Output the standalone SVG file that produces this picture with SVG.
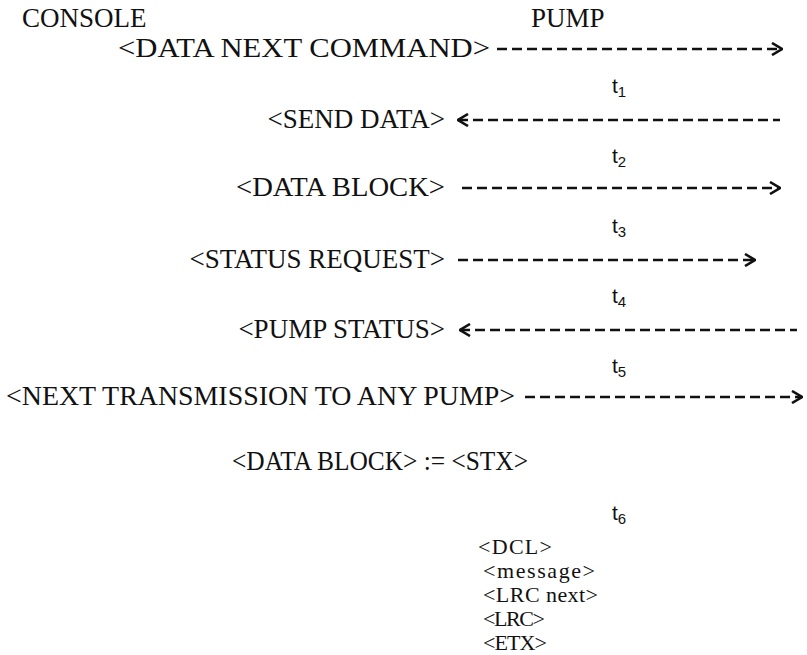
<svg xmlns="http://www.w3.org/2000/svg" width="807" height="655" viewBox="0 0 807 655">
<defs>
<style>
.lbl{font-family:"Liberation Serif","Times New Roman",serif;font-size:27px;fill:#111}
.sm{font-family:"Liberation Serif","Times New Roman",serif;font-size:22px;fill:#111}
.t{font-family:"Liberation Sans",Arial,sans-serif;font-size:21px;fill:#111}
.sub{font-size:15px}
.dash{stroke:#111;stroke-width:2.6;stroke-dasharray:10 5;fill:none}
</style>
<marker id="arrR" viewBox="0 0 12 14" refX="11" refY="7" markerWidth="12" markerHeight="14" markerUnits="userSpaceOnUse" orient="auto"><polyline points="1,1 11,7 1,13" fill="none" stroke="#111" stroke-width="2.6"/></marker>
<marker id="arrL" viewBox="0 0 12 14" refX="1" refY="7" markerWidth="12" markerHeight="14" markerUnits="userSpaceOnUse" orient="auto"><polyline points="11,1 1,7 11,13" fill="none" stroke="#111" stroke-width="2.6"/></marker>
</defs>
<rect width="807" height="655" fill="#fff"/>
<g id="console"><text class="lbl" x="22" y="27">CONSOLE</text></g>
<g id="pump"><text class="lbl" x="531" y="27">PUMP</text></g>
<g id="msg-data-next-command"><text class="lbl" x="118" y="57" textLength="372" lengthAdjust="spacingAndGlyphs">&lt;DATA NEXT COMMAND&gt;</text></g>
<g id="msg-send-data"><text class="lbl" x="445" y="128" text-anchor="end">&lt;SEND DATA&gt;</text></g>
<g id="msg-data-block"><text class="lbl" x="236" y="196" textLength="209" lengthAdjust="spacingAndGlyphs">&lt;DATA BLOCK&gt;</text></g>
<g id="msg-status-request"><text class="lbl" x="445" y="268" text-anchor="end">&lt;STATUS REQUEST&gt;</text></g>
<g id="msg-pump-status"><text class="lbl" x="445" y="338" text-anchor="end">&lt;PUMP STATUS&gt;</text></g>
<g id="msg-next-transmission"><text class="lbl" x="6" y="405" textLength="509" lengthAdjust="spacingAndGlyphs">&lt;NEXT TRANSMISSION TO ANY PUMP&gt;</text></g>
<g id="t1"><text class="t" x="612" y="93">t<tspan class="sub" dy="4">1</tspan></text></g>
<g id="t2"><text class="t" x="612" y="163">t<tspan class="sub" dy="4">2</tspan></text></g>
<g id="t3"><text class="t" x="612" y="233">t<tspan class="sub" dy="4">3</tspan></text></g>
<g id="t4"><text class="t" x="612" y="303">t<tspan class="sub" dy="4">4</tspan></text></g>
<g id="t5"><text class="t" x="612" y="373">t<tspan class="sub" dy="4">5</tspan></text></g>
<g id="t6"><text class="t" x="612" y="520">t<tspan class="sub" dy="4">6</tspan></text></g>
<g id="data-block-def"><text class="lbl" x="232" y="470" textLength="296" lengthAdjust="spacingAndGlyphs">&lt;DATA BLOCK&gt; := &lt;STX&gt;</text></g>
<g id="dcl"><text class="sm" x="478" y="554" textLength="74" lengthAdjust="spacing">&lt;DCL&gt;</text></g>
<g id="message"><text class="sm" x="483" y="578" textLength="112" lengthAdjust="spacing">&lt;message&gt;</text></g>
<g id="lrc-next"><text class="sm" x="483" y="602" textLength="115" lengthAdjust="spacing">&lt;LRC next&gt;</text></g>
<g id="lrc"><text class="sm" x="483" y="626" textLength="62" lengthAdjust="spacing">&lt;LRC&gt;</text></g>
<g id="etx"><text class="sm" x="483" y="650" textLength="64" lengthAdjust="spacing">&lt;ETX&gt;</text></g>
<g id="connectors">
<line class="dash" x1="497" y1="49" x2="782" y2="49" marker-end="url(#arrR)"/>
<line class="dash" x1="458" y1="120" x2="780" y2="120" marker-start="url(#arrL)"/>
<line class="dash" x1="462" y1="188" x2="780" y2="188" marker-end="url(#arrR)"/>
<line class="dash" x1="458" y1="260" x2="755" y2="260" marker-end="url(#arrR)"/>
<line class="dash" x1="460" y1="330" x2="797" y2="330" marker-start="url(#arrL)"/>
<line class="dash" x1="525" y1="397" x2="802" y2="397" marker-end="url(#arrR)"/>
</g>
</svg>
